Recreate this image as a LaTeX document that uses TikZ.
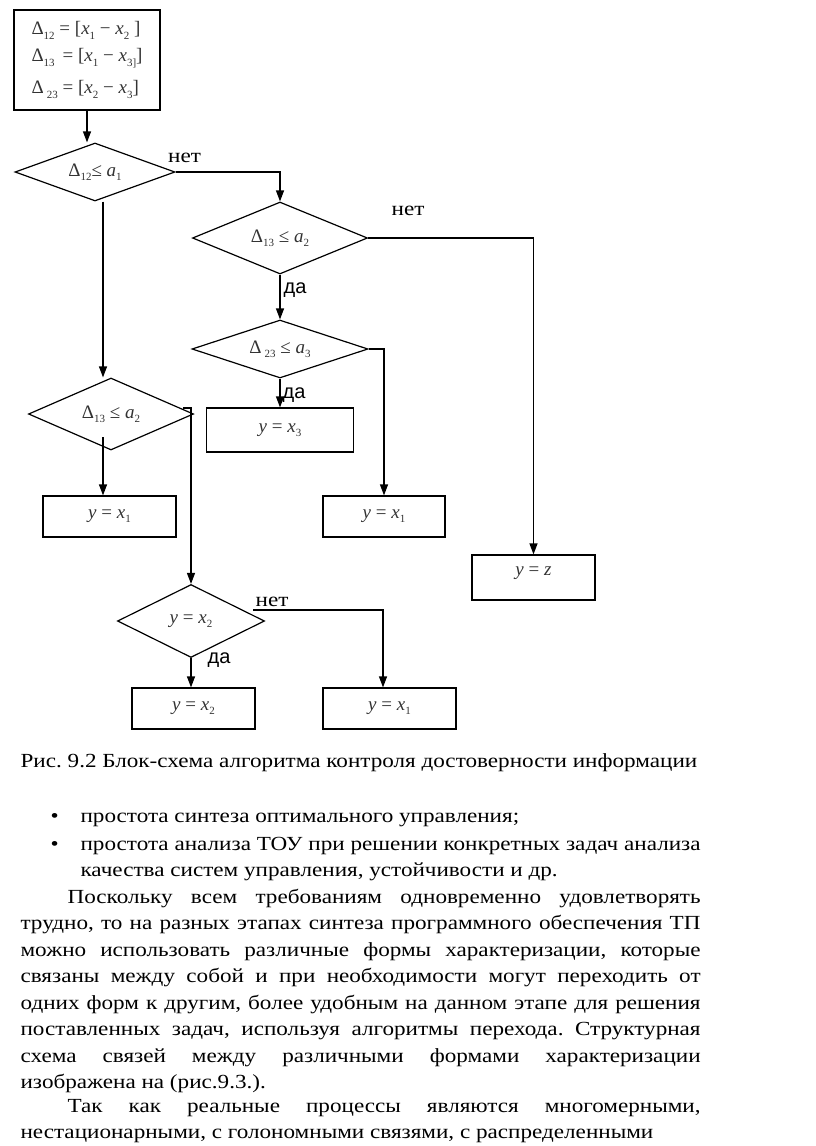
\documentclass[tikz,border=0pt]{standalone}
\usepackage{fontspec}
\setmainfont{Liberation Serif}
\newfontfamily\arialfont{Liberation Sans}
\newfontfamily\bodyff[FakeStretch=1.157]{Liberation Serif}
\usetikzlibrary{shapes.geometric,positioning,arrows.meta}

\newcommand{\idx}[1]{\raisebox{-0.22em}{\fontsize{11}{11}\selectfont #1}}
\newcommand{\bodyfont}{\bodyff\fontsize{20}{26.5}\selectfont\frenchspacing}

\tikzset{
	blok/.style={draw, rectangle, line width=1.2pt, inner sep=0pt, text=black!80, font=\fontsize{19}{19}\selectfont},
	usl/.style={draw, diamond, aspect=2.5, line width=1.2pt, inner sep=0pt, text=black!80, font=\fontsize{19}{19}\selectfont},
	net/.style={anchor=base west, inner sep=0pt, font=\bodyff\fontsize{20}{20}\selectfont},
	da/.style={anchor=base west, inner sep=0pt, font=\arialfont\fontsize{20}{20}\selectfont},
	tekst/.style={anchor=base west, inner sep=0pt, font=\bodyfont, align=justify}
}

\begin{document}
\begin{tikzpicture}[x=1pt,y=-1pt,on grid,line width=1.2pt,>={Triangle[length=11pt,width=8pt]}]
	\useasboundingbox (0,0) rectangle (816,1146);
	
	% blocks
	\node[blok, minimum width=146pt, minimum height=100pt, align=left, font=\fontsize{19}{27}\selectfont] (init) at (87,60)
		{Δ\idx{12} = [\textit{x}\idx{1} − \textit{x}\idx{2} ]\\ Δ\idx{13} \,= [\textit{x}\idx{1} − \textit{x}\idx{3]}]\\[5pt] Δ\,\idx{23} = [\textit{x}\idx{2} − \textit{x}\idx{3}]};
	\node[usl, minimum width=160pt, minimum height=58pt]	(d1)	[below right=112pt and 8pt of init]		{Δ\idx{12}≤ \textit{a}\idx{1}};
	\node[usl, minimum width=175pt, minimum height=72pt]	(d2)	[below right=66pt and 185pt of d1]		{Δ\idx{13} ≤ \textit{a}\idx{2}};
	\node[usl, minimum width=176pt, minimum height=58pt]	(d4)	[below=111pt of d2]						{Δ\,\idx{23} ≤ \textit{a}\idx{3}};
	\node[blok, minimum width=147pt, minimum height=44pt]	(bx3)	[below=81pt of d4]						{\textit{y} = \textit{x}\idx{3}};
	\node[blok, minimum width=122pt, minimum height=41pt]	(bx1b)	[below right=167.5pt and 104pt of d4]	{\textit{y} = \textit{x}\idx{1}};
	\node[usl, minimum width=165pt, minimum height=72pt]	(d3)	[below right=242pt and 16pt of d1]		{Δ\idx{13} ≤ \textit{a}\idx{2}};
	\node[blok, minimum width=133pt, minimum height=41pt]	(bx1a)	[below left=102.5pt and 1.5pt of d3]	{\textit{y} = \textit{x}\idx{1}};
	\node[usl, minimum width=147pt, minimum height=73pt]	(d5)	[below right=207pt and 80pt of d3]		{\textit{y} = \textit{x}\idx{2}};
	\node[blok, minimum width=123pt, minimum height=41pt]	(bx2)	[below right=87.5pt and 2.5pt of d5]	{\textit{y} = \textit{x}\idx{2}};
	\node[blok, minimum width=133pt, minimum height=41pt]	(bx1c)	[right=196pt of bx2]					{\textit{y} = \textit{x}\idx{1}};
	\node[blok, minimum width=123pt, text height=20pt, text depth=25pt] (bxz) [below right=339.5pt and 253.5pt of d2] {\textit{y} = \textit{z}};
	
	% connectors
	\draw[->]	(init.south) -- (init.south |- d1.north);
	\draw[->]	(d1.east) node[net, xshift=-8pt, yshift=10pt] (net1) {нет} -| (d2.north);
	\draw[->]	([xshift=8pt]d1.south) -- ([xshift=-8pt]d3.north);
	\draw[->]	(d2.south) node[da, xshift=3pt, yshift=-19pt] (da1) {да} -- (d4.north);
	\draw[->]	(d2.east) node[net, xshift=23pt, yshift=23pt] (net2) {нет} -| (bxz.north);
	\draw[->]	(d4.south) node[da, xshift=2pt, yshift=-20pt] (da2) {да} -- (bx3.north -| d4.south);
	\draw[->]	(d4.east) -| (bx1b.north);
	\draw[->]	([shift={(-8,23)}]d3.center) -- ([xshift=-6.5pt]bx1a.north);
	\draw[->]	([shift={(-11,-6)}]d3.east) -| (d5.north);
	\draw[->]	(d5.south) node[da, xshift=16pt, yshift=-5pt] (da3) {да} -- (d5.south |- bx2.north);
	\draw[->]	([shift={(-12,-11)}]d5.east) node[net, xshift=2pt, yshift=4pt] (net3) {нет} -| ([xshift=-6.5pt]bx1c.north);
	
	% caption and text
	\node[tekst] (cap) at (20,767) {Рис. 9.2 Блок-схема алгоритма контроля достоверности информации};
	\node[tekst] (bul1) at (50,822) {•};
	\node[tekst, text width=620pt] (p1) at (80,822) {простота синтеза оптимального управления;};
	\node[tekst] (bul2) at (50,850) {•};
	\node[tekst, text width=620pt] (p2) at (80,850) {простота анализа ТОУ при решении конкретных задач анализа\linebreak качества систем управления, устойчивости и др.};
	\node[tekst, text width=680pt] (p3) at (20,903) {\hspace*{47pt}Поскольку всем требованиям одновременно удовлетворять\linebreak
		трудно, то на разных этапах синтеза программного обеспечения ТП\linebreak
		можно использовать различные формы характеризации, которые\linebreak
		связаны между собой и при необходимости могут переходить от\linebreak
		одних форм к другим, более удобным на данном этапе для решения\linebreak
		поставленных задач, используя алгоритмы перехода. Структурная\linebreak
		схема связей между различными формами характеризации\linebreak
		изображена на (рис.9.3.).};
	\node[tekst, text width=680pt] (p4) at (20,1112) {\hspace*{47pt}Так как реальные процессы являются многомерными,\linebreak
		нестационарными, с голономными связями, с распределенными};
\end{tikzpicture}
\end{document}
